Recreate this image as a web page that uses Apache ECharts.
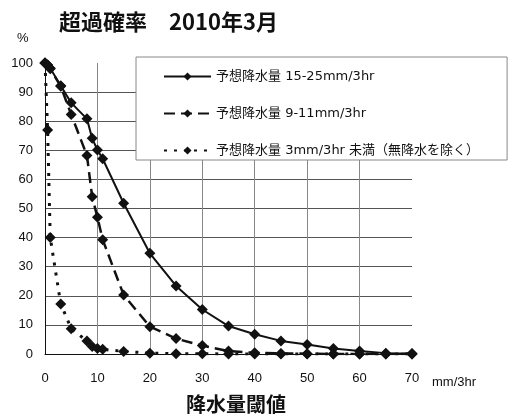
<!DOCTYPE html>
<html><head><meta charset="utf-8">
<script src="https://cdn.jsdelivr.net/npm/echarts@6/dist/echarts.min.js"></script>
<style>html,body{margin:0;padding:0;background:#fff}#c{width:512px;height:419px}</style>
</head><body><div id="c"></div>
<script>
const thresholds = [0, 0.5, 1, 3, 5, 8, 9, 10, 11, 15, 20, 25, 30, 35, 40, 45, 50, 55, 60, 65, 70];
const seriesNames = ['予想降水量 15-25mm/3hr', '予想降水量 9-11mm/3hr', '予想降水量 3mm/3hr 未満（無降水を除く）'];
const heavy = [100, 99.3, 98.2, 92.2, 86.3, 80.8, 74.1, 70.1, 67.1, 51.8, 34.6, 23.4, 15.3, 9.6, 6.8, 4.5, 3.3, 1.9, 1.0, 0.3, 0.2];
const medium = [100, 99.3, 98, 92, 82.3, 68.2, 54, 47, 39.3, 20.3, 9.4, 5.3, 2.9, 1.0, 0.4, 0.2, 0.1, 0, 0, 0, 0];
const light = [100, 77, 40, 17.2, 8.7, 4.5, 2.6, 1.9, 1.6, 0.9, 0.3, 0.1, 0.1, 0, 0, 0, 0, 0, 0, 0, 0];
const xTicks = [0, 10, 20, 30, 40, 50, 60, 70];
const yTicks = [0, 10, 20, 30, 40, 50, 60, 70, 80, 90, 100];

const pair = arr => thresholds.map((t, i) => [t, arr[i]]);
const font = 'Liberation Sans, Arial, sans-serif';
const cjk = '"Noto Sans CJK JP", sans-serif';
const mixed = '"DejaVu Sans", "Noto Sans CJK JP", sans-serif';
const mk = (name, data, type, width, dash) => ({
  name, type: 'line', data: pair(data), symbol: 'diamond', symbolSize: 11,
  itemStyle: {color: '#111'},
  lineStyle: {color: '#111', width, type: dash || type},
  animation: false, z: 3
});
const chart = echarts.init(document.getElementById('c'));
chart.setOption({
  animation: false,
  grid: {left: 45, right: 100, top: 63, bottom: 65},
  title: {text: '超過確率　2010年3月', left: 54, top: 6,
    textStyle: {fontFamily: cjk, fontSize: 22, fontWeight: 'bold', color: '#111'}},
  graphic: [
    {type: 'text', left: 17, top: 32, style: {text: '%', font: '13px ' + font, fill: '#111'}},
    {type: 'text', left: 432, top: 376, style: {text: 'mm/3hr', font: '13px ' + font, fill: '#111'}},
    {type: 'text', left: 186, top: 394, style: {text: '降水量閾値', font: 'bold 20px ' + cjk, fill: '#111'}}
  ],
  legend: {
    data: seriesNames, orient: 'vertical', left: 136, top: 57,
    backgroundColor: '#fff', borderColor: '#888', borderWidth: 1,
    padding: [13, 28, 3, 27], itemGap: 24, itemWidth: 47, itemHeight: 10,
    textStyle: {fontFamily: mixed, fontSize: 13, color: '#111'}, z: 10
  },
  xAxis: {
    type: 'value', min: 0, max: 70, interval: 10,
    axisLine: {lineStyle: {color: '#111', width: 1}}, axisTick: {show: false},
    axisLabel: {fontFamily: font, fontSize: 13, color: '#111', margin: 18},
    splitLine: {show: true, showMinLine: false, showMaxLine: false, lineStyle: {color: '#888', width: 1}}
  },
  yAxis: {
    type: 'value', min: 0, max: 100, interval: 10,
    axisLine: {show: true, lineStyle: {color: '#111', width: 1}}, axisTick: {show: false},
    axisLabel: {fontFamily: font, fontSize: 13, color: '#111', margin: 12},
    splitLine: {show: true, showMaxLine: false, lineStyle: {color: '#555', width: 1}}
  },
  series: [
    mk(seriesNames[0], heavy, 'solid', 2),
    mk(seriesNames[1], medium, 'dashed', 2.5, [11, 6]),
    mk(seriesNames[2], light, 'dotted', 3, [3, 7])
  ]
});
</script></body></html>
